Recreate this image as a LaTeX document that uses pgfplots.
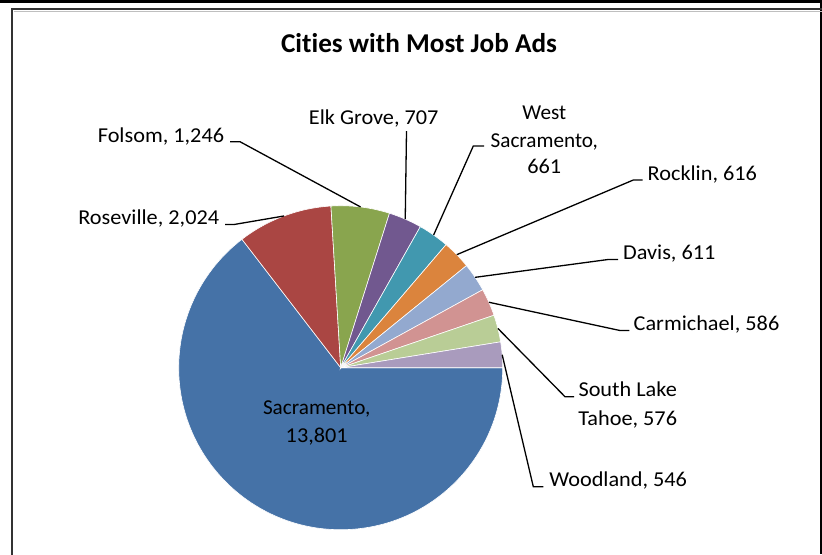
\documentclass[border=0pt]{standalone}
\usepackage{pgfplots}
\pgfplotsset{compat=1.18}
\usepackage{pgfplotstable}
\usepackage{graphicx}
\usepackage{fontspec}
\setmainfont{Carlito}[Ligatures=NoCommon]

\definecolor{slice0}{HTML}{4572A7}
\definecolor{slice1}{HTML}{AA4643}
\definecolor{slice2}{HTML}{89A54E}
\definecolor{slice3}{HTML}{71588F}
\definecolor{slice4}{HTML}{4198AF}
\definecolor{slice5}{HTML}{DB843D}
\definecolor{slice6}{HTML}{93A9CF}
\definecolor{slice7}{HTML}{D19392}
\definecolor{slice8}{HTML}{B9CD96}
\definecolor{slice9}{HTML}{A99BBD}

\newcommand\lab{\fontsize{10.6}{12}\selectfont}
% Excel sets the digits a little wider than Calibri's own metrics
\newcommand\wide[1]{\scalebox{1.05}[1]{#1}}

% job ads per city
\pgfplotstableread[col sep=comma]{
city,value
Sacramento,13801
Roseville,2024
Folsom,1246
Elk Grove,707
West Sacramento,661
Rocklin,616
Davis,611
Carmichael,586
South Lake Tahoe,576
Woodland,546
}\citydata

% total (in thousands, pgfmath cannot go past 16383)
\gdef\total{0}
\foreach \i in {0,...,9}{
  \pgfplotstablegetelem{\i}{value}\of\citydata
  \pgfmathsetmacro\t{\total+\pgfplotsretval/1000}
  \global\let\total\t
}
% start, end and middle angle of each slice, clockwise from 3 o'clock
\gdef\cum{0}
\foreach \i in {0,...,9}{
  \pgfplotstablegetelem{\i}{value}\of\citydata
  \pgfmathsetmacro\a{-\cum/\total*360}
  \pgfmathsetmacro\c{\cum+\pgfplotsretval/1000}
  \pgfmathsetmacro\b{-\c/\total*360}
  \pgfmathsetmacro\m{(\a+\b)/2}
  \expandafter\xdef\csname sa\i\endcsname{\a}
  \expandafter\xdef\csname sb\i\endcsname{\b}
  \expandafter\xdef\csname sm\i\endcsname{\m}
  \global\let\cum\c
}

\def\cx{340.7}
\def\cy{367.7}

\begin{document}
\begin{tikzpicture}[every node/.style={inner sep=0pt}]
\begin{axis}[
  width=411pt, height=277pt, scale only axis,
  xmin=0, xmax=822, ymin=0, ymax=554, y dir=reverse,
  hide axis, clip=false,
]
% frame
\fill[black] (axis cs:0,0) rectangle (axis cs:822,2.5);
\fill[black] (axis cs:819.5,0) rectangle (axis cs:822,554);
\draw[line width=1pt, black!80] (axis cs:12,570) -- (axis cs:12,9) -- (axis cs:840,9);
\draw[line width=0.5pt, black!25] (axis cs:13.5,11) -- (axis cs:840,11);

% slices
\pgfplotsinvokeforeach{0,...,9}{
  \fill[slice#1, draw=white, line width=0.3pt] (axis cs:\cx,\cy) -- ++(\csname sa#1\endcsname:81pt)
    arc[start angle=\csname sa#1\endcsname, end angle=\csname sb#1\endcsname, radius=81pt] -- cycle;
}

% title
\node[anchor=base, font=\fontsize{13.6}{16}\selectfont\bfseries] at (axis cs:419,52.3) {Cities with Most Job Ads};

% leader lines
\begin{scope}[line width=0.65pt, black]
\draw (axis cs:\cx,\cy) ++(\csname sm1\endcsname:81pt) -- (axis cs:234,224.5) -- (axis cs:225,224.5);
\draw (axis cs:\cx,\cy) ++(\csname sm2\endcsname:81pt) -- (axis cs:240,141.7) -- (axis cs:230,141.7);
\draw (axis cs:\cx,\cy) ++(\csname sm3\endcsname:81pt) -- (axis cs:406.5,131);
\draw (axis cs:\cx,\cy) ++(\csname sm4\endcsname:81pt) -- (axis cs:473.3,146) -- (axis cs:484,146);
\draw (axis cs:\cx,\cy) ++(\csname sm5\endcsname:81pt) -- (axis cs:633.3,180) -- (axis cs:642.7,180);
\draw (axis cs:\cx,\cy) ++(\csname sm6\endcsname:81pt) -- (axis cs:608,259.5) -- (axis cs:618,259.5);
\draw (axis cs:\cx,\cy) ++(\csname sm7\endcsname:81pt) -- (axis cs:620,330.5) -- (axis cs:629.3,330.5);
\draw (axis cs:\cx,\cy) ++(\csname sm8\endcsname:81pt) -- (axis cs:565,396.7) -- (axis cs:574,396.7);
\draw (axis cs:\cx,\cy) ++(\csname sm9\endcsname:81pt) -- (axis cs:533.3,486.7) -- (axis cs:543.3,486.7);
\end{scope}

% labels
\node[anchor=base, font=\lab] at (axis cs:316.7,414.3) {Sacramento,};
\node[anchor=base, font=\lab] at (axis cs:316.7,442.7) {\wide{13,801}};
\node[anchor=base east, font=\lab] at (axis cs:219.5,224.3) {\wide{Roseville, 2,024}};
\node[anchor=base east, font=\lab] at (axis cs:224.5,142.3) {\wide{Folsom, 1,246}};
\node[anchor=base, font=\lab] at (axis cs:373.7,124.3) {\wide{Elk Grove, 707}};
\node[anchor=base, font=\lab] at (axis cs:544.3,119.3) {West};
\node[anchor=base, font=\lab] at (axis cs:544.3,147.3) {Sacramento,};
\node[anchor=base, font=\lab] at (axis cs:544.3,173.3) {\wide{661}};
\node[anchor=base west, font=\lab] at (axis cs:647.3,180.7) {\wide{Rocklin, 616}};
\node[anchor=base west, font=\lab] at (axis cs:622.7,259.3) {\wide{Davis, 611}};
\node[anchor=base west, font=\lab] at (axis cs:633.3,330.7) {\wide{Carmichael, 586}};
\node[anchor=base, font=\lab] at (axis cs:627.7,396.7) {\wide{South Lake}};
\node[anchor=base, font=\lab] at (axis cs:627.7,425) {\wide{Tahoe, 576}};
\node[anchor=base west, font=\lab] at (axis cs:549,486.7) {\wide{Woodland, 546}};
\end{axis}
\pgfresetboundingbox
\path (current axis.south west) rectangle (current axis.north east);
\end{tikzpicture}
\end{document}
